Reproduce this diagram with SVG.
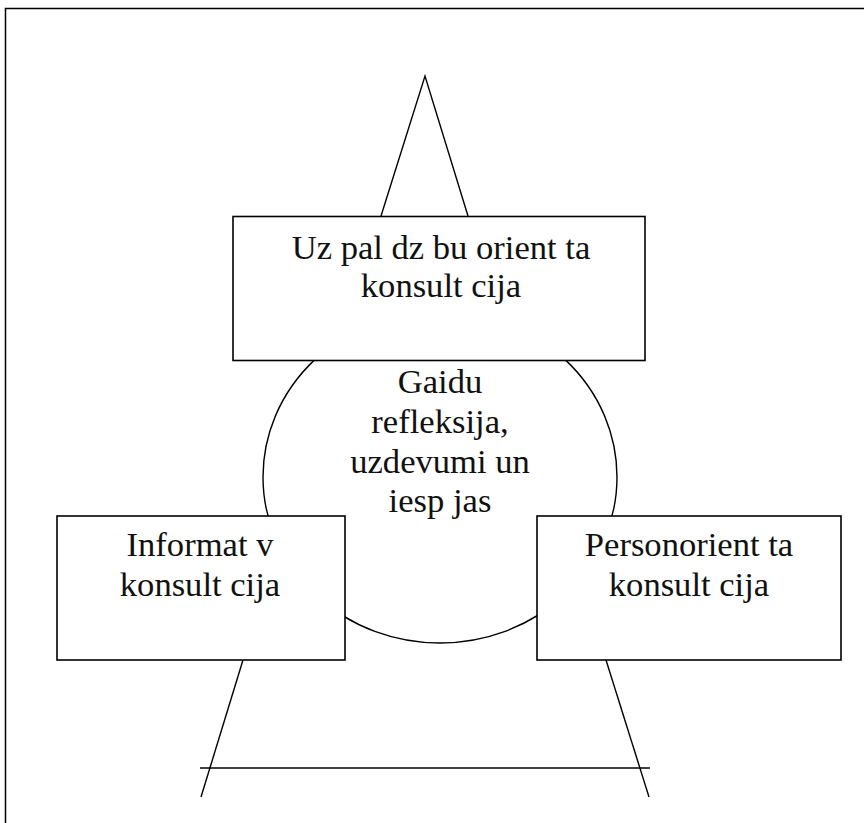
<svg xmlns="http://www.w3.org/2000/svg" width="864" height="823" viewBox="0 0 864 823">
<style>
.ln{fill:none;stroke:#000;stroke-width:1.4}
.box{fill:#fff;stroke:#000;stroke-width:1.6}
.t{font-family:"Liberation Serif","Times New Roman",serif;font-size:34.6px;fill:#111;text-anchor:middle}
</style>
<rect width="864" height="823" fill="#fff"/>
<path d="M5.5,823 V8.5 H864" fill="none" stroke="#000" stroke-width="1.5"/>
<g id="connectors">
<path class="ln" d="M381,216 L425,76 L468,216"/>
<path class="ln" d="M243,660 L201,797"/>
<path class="ln" d="M606,660 L649,797"/>
<path class="ln" d="M200,768 H650"/>
</g>
<g id="center">
<ellipse class="ln" cx="440" cy="477" rx="177" ry="166"/>
<text class="t" x="440" y="393">Gaidu</text>
<text class="t" x="440" y="433">refleksija,</text>
<text class="t" x="440" y="473">uzdevumi un</text>
<text class="t" x="440" y="512">iesp jas</text>
</g>
<g id="top">
<rect class="box" x="233" y="216.5" width="412" height="144"/>
<text class="t" x="441" y="258.5">Uz pal dz bu orient ta</text>
<text class="t" x="441" y="297">konsult cija</text>
</g>
<g id="left">
<rect class="box" x="57" y="516" width="288" height="144"/>
<text class="t" x="200" y="556">Informat v</text>
<text class="t" x="200" y="596">konsult cija</text>
</g>
<g id="right">
<rect class="box" x="537" y="516" width="304" height="144"/>
<text class="t" x="689" y="556">Personorient ta</text>
<text class="t" x="689" y="596">konsult cija</text>
</g>
</svg>
